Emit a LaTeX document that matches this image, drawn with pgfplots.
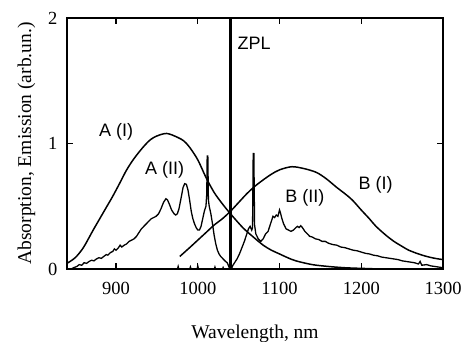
\documentclass[border=0pt]{standalone}
\usepackage{fontspec}
\setmainfont{Liberation Serif}
\newfontfamily\sansf{Liberation Sans}
\usepackage{pgfplots}
\pgfplotsset{compat=1.18}
\begin{document}
\begin{tikzpicture}
\path[use as bounding box] (-67bp,-73bp) rectangle (398bp,269bp);
\begin{axis}[
  scale only axis,
  width=376bp, height=251bp,
  at={(0,0)}, anchor=south west,
  xmin=840, xmax=1300, ymin=0, ymax=2,
  xtick={900,1000,1100,1200,1300},
  ytick={0,1,2},
  /pgf/number format/assume math mode=true,
  /pgf/number format/1000 sep={},
  tick label style={font=\fontsize{18.5bp}{20bp}\selectfont},
  xticklabel style={yshift=-10bp},
  yticklabel style={xshift=-6bp},
  axis line style={line width=1.8pt},
  major tick length=6bp,
  tick style={line width=1.4pt, black},
  xlabel={Wavelength, nm},
  ylabel={Absorption, Emission (arb.un.)},
  label style={font=\fontsize{19.5bp}{22bp}\selectfont},
  x label style={at={(axis description cs:0.5,0)}, yshift=-65bp, anchor=center},
  y label style={at={(axis description cs:-0.1077,0.5)}, anchor=center},
  clip=true,
]
% A(I) absorption
\addplot[black, line width=1.5pt, smooth] coordinates {
(840,0.045) (850,0.09) (860,0.17) (872,0.31) (880,0.40) (888,0.49) (896,0.58) (905,0.69) (913,0.79)
(922,0.88) (933,0.97) (942,1.03) (950,1.06) (962,1.08) (975,1.05) (983,1.02) (990,0.97) (1000,0.87)
(1010,0.73) (1020,0.61) (1030,0.52) (1040,0.44) (1055,0.33) (1067,0.26) (1080,0.19) (1090,0.15)
(1100,0.12) (1110,0.09) (1120,0.065) (1140,0.035) (1160,0.02) (1180,0.01) (1200,0.005) (1230,0.0) (1300,0.0)
};
% B(I) absorption
\addplot[black, line width=1.5pt, smooth] coordinates {
(978,0.10) (990,0.17) (1000,0.23) (1010,0.29) (1020,0.35) (1030,0.40) (1040,0.46) (1050,0.53) (1060,0.60)
(1070,0.66) (1080,0.71) (1090,0.755) (1100,0.79) (1115,0.815) (1130,0.80) (1145,0.77) (1157,0.72)
(1170,0.65) (1180,0.60) (1189,0.55) (1200,0.47) (1210,0.40) (1218,0.34) (1230,0.27) (1240,0.22)
(1250,0.18) (1258,0.15) (1270,0.12) (1280,0.10) (1290,0.085) (1300,0.075)
};
% A(II) emission
\addplot[black, line width=1.3pt] coordinates {
(845,0.0) (848,0.01) (852,0.02) (855,0.035) (858,0.03) (861,0.05) (864,0.045) (867,0.06) (870,0.07)
(873,0.065) (876,0.08) (879,0.09) (882,0.085) (885,0.10) (888,0.115) (890,0.11) (893,0.13) (896,0.14)
(898,0.16) (900,0.15) (903,0.17) (905,0.19) (907,0.175) (910,0.19) (913,0.20) (916,0.22) (919,0.23)
(922,0.24) (925,0.26) (928,0.29) (931,0.32) (934,0.34) (937,0.36) (940,0.38) (943,0.40) (946,0.41)
(949,0.42) (952,0.44) (955,0.48) (958,0.53) (961,0.56) (963,0.55) (965,0.52) (968,0.47) (971,0.44)
(973,0.43) (975,0.44) (977,0.48) (980,0.58) (982,0.65) (984,0.68) (986,0.675) (988,0.63) (990,0.55)
(992,0.46) (994,0.40) (996,0.36) (998,0.33) (1000,0.31) (1002,0.31) (1004,0.34) (1006,0.40) (1008,0.46)
(1010,0.50) (1011,0.60) (1011.5,0.90) (1012.3,0.90) (1013,0.55) (1014,0.50) (1016,0.44) (1018,0.36)
(1020,0.27) (1022,0.20) (1024,0.15) (1026,0.12) (1028,0.10) (1031,0.08) (1034,0.06) (1036,0.05)
(1038,0.02) (1039,0.0)
};
% B(II) emission
\addplot[black, line width=1.3pt] coordinates {
(1041,0.0) (1043,0.03) (1045,0.05) (1048,0.08) (1051,0.12) (1054,0.17) (1057,0.22) (1060,0.28)
(1062,0.32) (1064,0.34) (1066,0.31) (1067,0.33) (1067.8,0.92) (1068.6,0.92) (1069.5,0.35) (1071,0.28)
(1074,0.24) (1077,0.22) (1080,0.24) (1083,0.28) (1086,0.30) (1089,0.36) (1092,0.42) (1094,0.41)
(1096,0.43) (1098,0.42) (1100,0.47) (1101,0.45) (1103,0.40) (1105,0.36) (1108,0.32) (1111,0.31)
(1114,0.30) (1117,0.31) (1120,0.33) (1122,0.34) (1124,0.33) (1126,0.345) (1128,0.33) (1131,0.30)
(1134,0.28) (1137,0.26) (1140,0.255) (1144,0.24) (1148,0.235) (1152,0.22) (1156,0.22) (1160,0.205)
(1165,0.195) (1170,0.19) (1175,0.175) (1180,0.17) (1185,0.16) (1190,0.15) (1195,0.145) (1200,0.135)
(1205,0.125) (1210,0.12) (1215,0.11) (1220,0.105) (1225,0.095) (1230,0.09) (1235,0.085) (1240,0.08)
(1245,0.075) (1250,0.065) (1255,0.06) (1260,0.055) (1265,0.05) (1270,0.04) (1272,0.06) (1274,0.03)
(1280,0.035) (1285,0.025) (1290,0.02) (1295,0.015) (1300,0.01)
};
% baseline noise
\addplot[black, line width=1pt] coordinates {
(975,0) (976,0.025) (977,0) (990,0) (991,0.02) (992,0) (999,0) (1000,0.03) (1001,0) (1020,0)
(1021,0.02) (1022,0) (1030,0) (1031,0.015) (1032,0)
};
% ZPL
\addplot[black, line width=2.6pt] coordinates {(1040,0) (1040,2)};
\node[font=\sansf\fontsize{18bp}{20bp}\selectfont] at (axis cs:900,1.09) {A (I)};
\node[font=\sansf\fontsize{18bp}{20bp}\selectfont] at (axis cs:959.5,0.79) {A (II)};
\node[font=\sansf\fontsize{18bp}{20bp}\selectfont] at (axis cs:1069,1.80) {ZPL};
\node[font=\sansf\fontsize{18bp}{20bp}\selectfont] at (axis cs:1131,0.57) {B (II)};
\node[font=\sansf\fontsize{18bp}{20bp}\selectfont] at (axis cs:1217.6,0.67) {B (I)};
\end{axis}
\end{tikzpicture}
\end{document}
